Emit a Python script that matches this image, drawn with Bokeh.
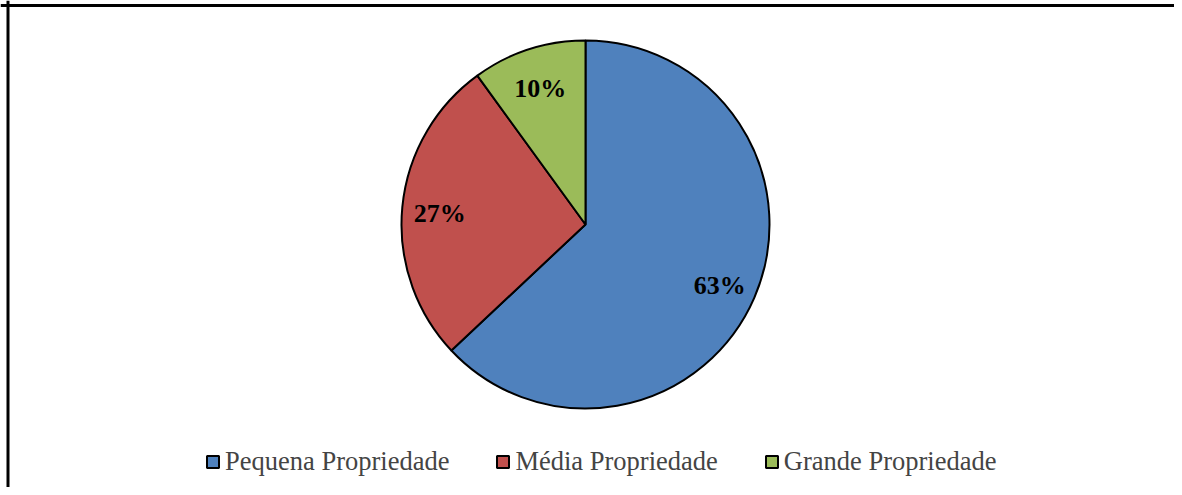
import numpy as np
from bokeh.plotting import figure
from bokeh.models import Range1d, Span, Legend, LegendItem, ColumnDataSource
from bokeh.core.properties import value
from bokeh.embed import file_html
from bokeh.resources import INLINE

categories = ["Pequena Propriedade", "Média Propriedade", "Grande Propriedade"]
shares = [63, 27, 10]
labels = ["63%", "27%", "10%"]
colors = ["#4F81BD", "#C0504D", "#9BBB59"]

W, H = 1174, 487
CX, CY, R = 585, 263, 184
LABEL_R = 0.795 * R

frac = np.array(shares, dtype=float) / sum(shares)
cum = np.concatenate([[0], np.cumsum(frac)])
start = np.pi / 2 - cum[:-1] * 2 * np.pi
end = np.pi / 2 - cum[1:] * 2 * np.pi
mid = (start + end) / 2

src = ColumnDataSource(dict(
    cat=categories, start=start, end=end, color=colors,
    lx=CX + LABEL_R * np.cos(mid), ly=CY + LABEL_R * np.sin(mid), lab=labels,
))

p = figure(width=W, height=H, x_range=Range1d(0, W), y_range=Range1d(0, H),
           min_border=0, toolbar_location=None, output_backend="svg")
p.axis.visible = False
p.grid.visible = False
p.outline_line_color = None
p.background_fill_color = "white"

renderers = []
for i in range(len(categories)):
    r = p.wedge(x=CX, y=CY, radius=R, start_angle=start[i], end_angle=end[i],
                direction="clock", fill_color=colors[i], line_color="black", line_width=2)
    renderers.append(r)

p.text(x="lx", y="ly", text="lab", source=src, text_align="center", text_baseline="middle",
       y_offset=3,
       text_font=value("Liberation Serif"), text_font_style="bold", text_font_size="26px",
       text_color="black")

p.add_layout(Span(location=7.5, dimension="height", line_color="black", line_width=3))
p.add_layout(Span(location=H - 5, dimension="width", line_color="black", line_width=3))

legend = Legend(items=[LegendItem(label=c, renderers=[r]) for c, r in zip(categories, renderers)],
                orientation="horizontal", location=(205, 10),
                label_text_font="Liberation Serif", label_text_font_size="26.5px",
                glyph_width=15, glyph_height=15, label_standoff=5, spacing=46,
                padding=0, margin=0, border_line_color=None, background_fill_alpha=0)
p.add_layout(legend, "center")

open("out.html", "w").write(file_html(p, INLINE))
